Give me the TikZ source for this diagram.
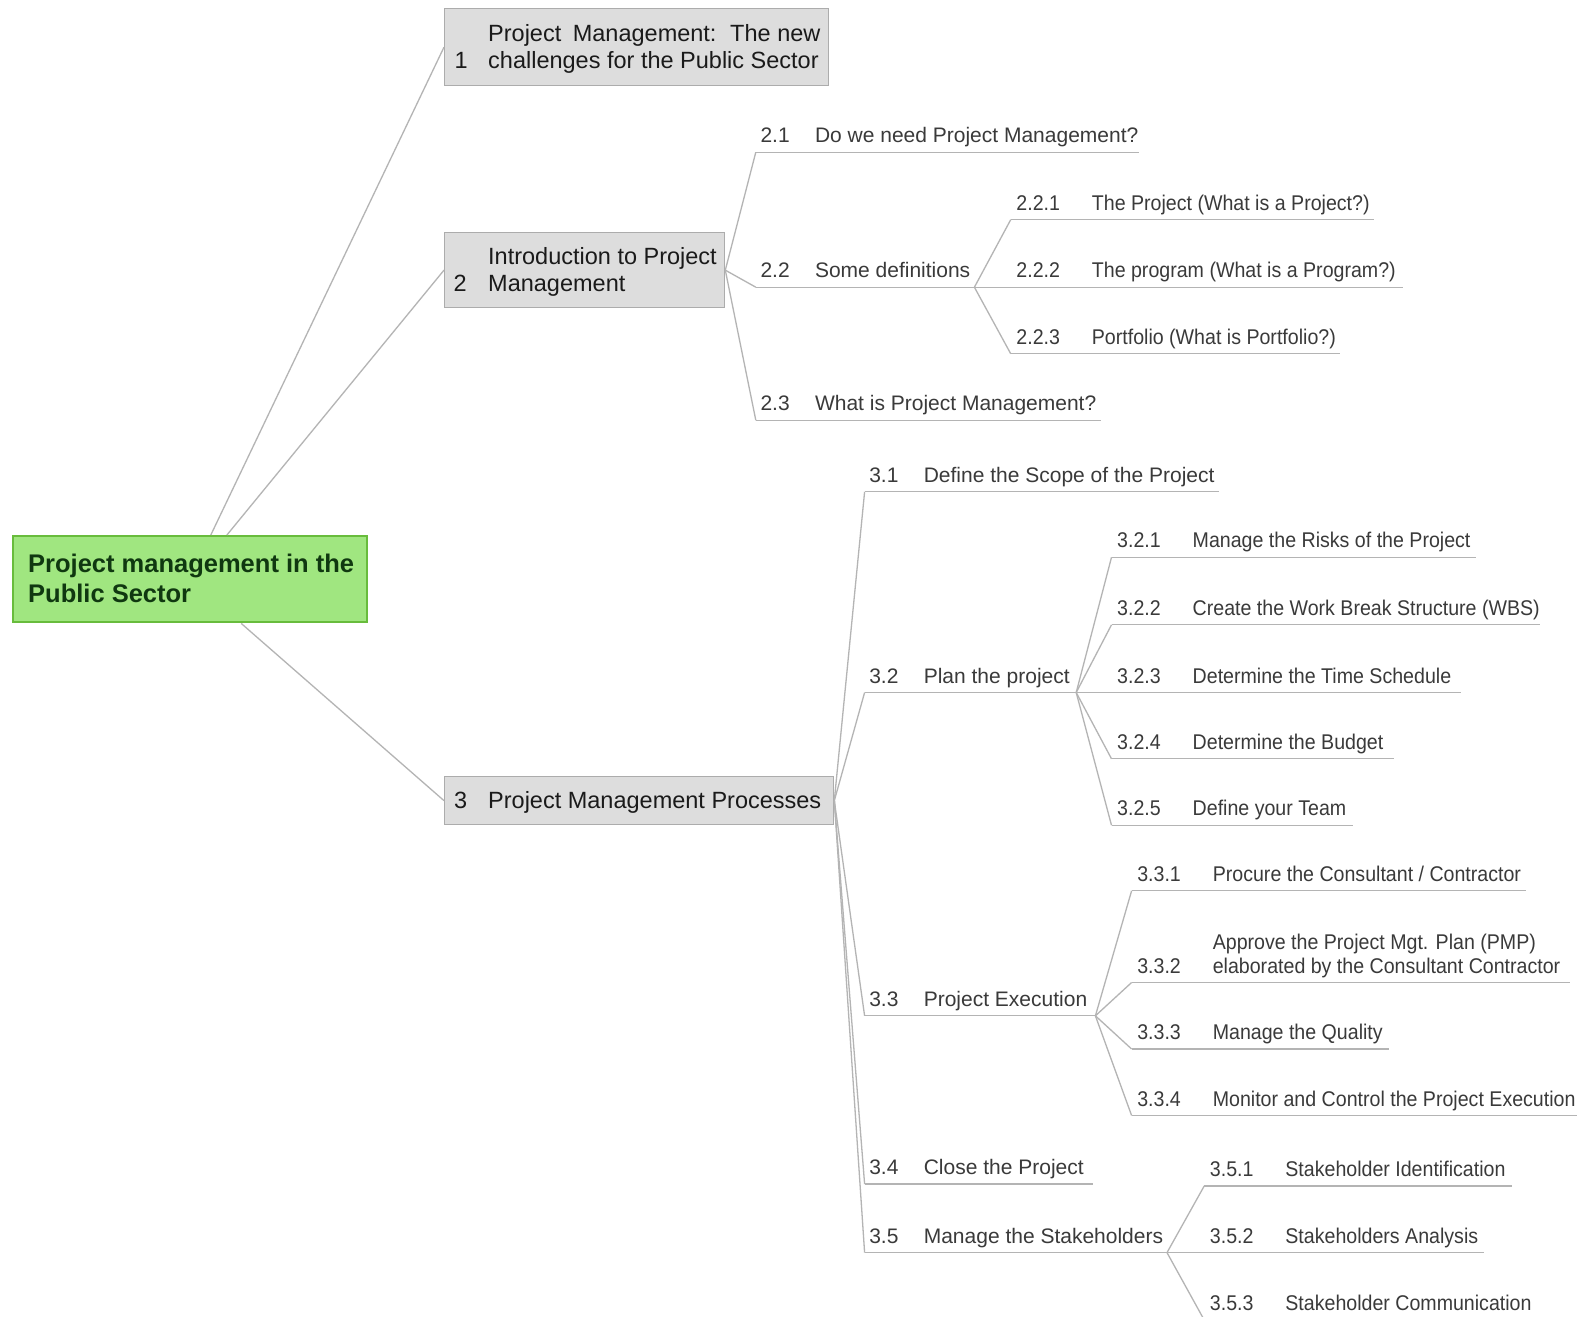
\documentclass[tikz,border=0pt]{standalone}
\usepackage{fontspec}
\setmainfont{Liberation Sans}
\newfontfamily\condfont[FakeStretch=0.92]{Liberation Sans}

\definecolor{cLine}{RGB}{180,180,180}
\definecolor{cBoxFill}{RGB}{221,221,221}
\definecolor{cBoxLine}{RGB}{172,172,172}
\definecolor{cRootFill}{RGB}{160,230,128}
\definecolor{cRootLine}{RGB}{104,188,60}
\definecolor{cRootText}{RGB}{16,56,16}
\definecolor{cItemText}{RGB}{58,58,58}
\definecolor{cBoxText}{RGB}{26,26,26}

\tikzset{
  conn/.style={draw=cLine, line width=1.3pt},
  uline/.style={draw=cLine, line width=1.3pt},
  topicbox/.style={draw=cBoxLine, fill=cBoxFill, line width=1.3pt, inner sep=0pt, anchor=north west},
  rootbox/.style={draw=cRootLine, fill=cRootFill, line width=2.4pt, inner sep=0pt, anchor=north west},
  boxlabel/.style={inner sep=0pt, anchor=base west, text=cBoxText, font=\fontsize{23.5}{28}\selectfont},
  rootlabel/.style={inner sep=0pt, anchor=base west, text=cRootText, font=\fontsize{25.5}{30}\selectfont\bfseries},
  numtwo/.style={inner sep=0pt, anchor=base west, text=cItemText, font=\fontsize{21}{25}\selectfont},
  labtwo/.style={numtwo},
  numthree/.style={inner sep=0pt, anchor=base west, text=cItemText, font=\condfont\fontsize{21.3}{25}\selectfont},
  labthree/.style={numthree}
}

% second-level entry: name, number, label, underline start x, end x, y
\newcommand\mmitemtwo[6]{%
  \coordinate (#1s) at (#4,#6);
  \coordinate (#1e) at (#5,#6);
  \draw[uline] (#1s) -- (#1e);
  \node[numtwo] (#1n) at (#4+4.5,#6-9.5) {#2};
  \node[labtwo] (#1l) at (#4+59,#6-9.5) {#3};
}
% third-level entry: same arguments
\newcommand\mmitemthree[6]{%
  \coordinate (#1s) at (#4,#6);
  \coordinate (#1e) at (#5,#6);
  \draw[uline] (#1s) -- (#1e);
  \node[numthree] (#1n) at (#4+5.5,#6-9.5) {#2};
  \node[labthree] (#1l) at (#4+81,#6-9.5) {#3};
}

\begin{document}
\begin{tikzpicture}[x=1pt,y=-1pt]
\useasboundingbox (0,0) rectangle (1580,1317);
\fill[white] (0,0) rectangle (1580,1317);
\clip (0,0) rectangle (1580,1317);

% central topic
\node[rootbox, minimum width=354pt, minimum height=86pt] (root) at (12,535) {};
\node[rootlabel] (rootA) at (28,572.2) {Project management in the};
\node[rootlabel] (rootB) at (28,602.2) {Public Sector};

% main topics
\node[topicbox, minimum width=384pt, minimum height=77pt] (b1) at (444,8) {};
\node[boxlabel] (b1n) at (454.5,68.6) {1};
\node[boxlabel] (b1a) at (488,41.1) {Project\hspace{5pt} Management:\hspace{5pt} The new};
\node[boxlabel] (b1b) at (488,68.6) {challenges for the Public Sector};

\node[topicbox, minimum width=280pt, minimum height=75pt] (b2) at (444,232) {};
\node[boxlabel] (b2n) at (453.5,291.6) {2};
\node[boxlabel] (b2a) at (488,264.1) {Introduction to Project};
\node[boxlabel] (b2b) at (488,291.6) {Management};

\node[topicbox, minimum width=389pt, minimum height=48pt] (b3) at (444,776) {};
\node[boxlabel] (b3n) at (454,808.4) {3};
\node[boxlabel] (b3a) at (488,808.4) {Project Management Processes};

\draw[conn] ([xshift=20.6pt]root.north) -- (b1.west);
\draw[conn] ([xshift=36.7pt]root.north) -- (b2.west);
\draw[conn] ([xshift=51pt]root.south) -- (b3.west);

% branch 2
\mmitemtwo{i21}{2.1}{Do we need Project Management?}{755.8}{1138.7}{152.2}
\mmitemtwo{i22}{2.2}{Some definitions}{755.8}{974.4}{287.2}
\mmitemtwo{i23}{2.3}{What is Project Management?}{755.8}{1101.4}{420.2}
\foreach \c in {i21,i22,i23} \draw[conn] (b2.east) -- (\c s);

\mmitemthree{i221}{2.2.1}{The Project (What is a Project?)}{1010.7}{1373.5}{219.7}
\mmitemthree{i222}{2.2.2}{The program (What is a Program?)}{1010.7}{1402.7}{287.2}
\mmitemthree{i223}{2.2.3}{Portfolio (What is Portfolio?)}{1010.7}{1340.2}{353.7}
\foreach \c in {i221,i222,i223} \draw[conn] (i22e) -- (\c s);

% branch 3
\mmitemtwo{i31}{3.1}{Define the Scope of the Project}{864.6}{1219.3}{491.8}
\mmitemtwo{i32}{3.2}{Plan the project}{864.6}{1076.2}{692.5}
\mmitemtwo{i33}{3.3}{Project Execution}{864.6}{1095.4}{1015.8}
\mmitemtwo{i34}{3.4}{Close the Project}{864.6}{1093.4}{1184}
\mmitemtwo{i35}{3.5}{Manage the Stakeholders}{864.6}{1167}{1252.6}
\foreach \c in {i31,i32,i33,i34,i35} \draw[conn] (b3.east) -- (\c s);

\mmitemthree{i321}{3.2.1}{Manage the Risks of the Project}{1111.5}{1476.3}{557.3}
\mmitemthree{i322}{3.2.2}{Create the Work Break Structure (WBS)}{1111.5}{1539.8}{624.8}
\mmitemthree{i323}{3.2.3}{Determine the Time Schedule}{1111.5}{1461.2}{692.5}
\mmitemthree{i324}{3.2.4}{Determine the Budget}{1111.5}{1393.6}{758.8}
\mmitemthree{i325}{3.2.5}{Define your Team}{1111.5}{1353.3}{825.3}
\foreach \c in {i321,i322,i323,i324,i325} \draw[conn] (i32e) -- (\c s);

\mmitemthree{i331}{3.3.1}{Procure the Consultant / Contractor}{1131.6}{1525.7}{890.8}
\mmitemthree{i332}{3.3.2}{elaborated by the Consultant Contractor}{1131.6}{1570}{982.5}
\node[labthree] (i332t) at (1212.6,949) {Approve the Project Mgt. Plan (PMP)};
\mmitemthree{i333}{3.3.3}{Manage the Quality}{1131.6}{1388.6}{1049}
\mmitemthree{i334}{3.3.4}{Monitor and Control the Project Execution}{1131.6}{1577}{1115.5}
\foreach \c in {i331,i332,i333,i334} \draw[conn] (i33e) -- (\c s);

\mmitemthree{i351}{3.5.1}{Stakeholder Identification}{1204.2}{1511.5}{1186}
\mmitemthree{i352}{3.5.2}{Stakeholders Analysis}{1204.2}{1484.3}{1252.6}
\mmitemthree{i353}{3.5.3}{Stakeholder Communication}{1204.2}{1545}{1320}
\foreach \c in {i351,i352,i353} \draw[conn] (i35e) -- (\c s);
\end{tikzpicture}
\end{document}
